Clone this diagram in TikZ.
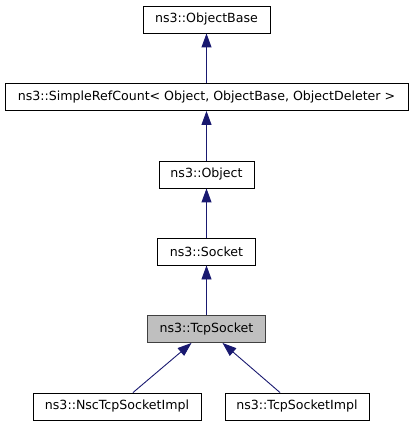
\documentclass[tikz,border=0pt]{standalone}
\usepackage{fontspec}
\setmainfont{DejaVu Sans}
\usetikzlibrary{arrows.meta}
\definecolor{edgeblue}{HTML}{191970}
\definecolor{boxgrey}{HTML}{BFBFBF}
\begin{document}
\begin{tikzpicture}[x=1pt, y=-1pt,
    every node/.style={font=\fontsize{12.6}{14}\selectfont},
    cls/.style={draw=black, line width=0.9pt, minimum height=27pt, inner sep=0pt},
    inherit/.style={draw=edgeblue, line width=0.9pt, -{Triangle[width=10pt, length=14pt]}}]
    \useasboundingbox (0,0) rectangle (413,427);
    % Draw the class nodes
    \node[cls, minimum width=127pt] (objbase) at (206.5, 19.5) {ns3::ObjectBase};
    \node[cls, minimum width=403pt] (refcount) at (206.5, 97) {ns3::SimpleRefCount< Object, ObjectBase, ObjectDeleter >};
    \node[cls, minimum width=95pt] (object) at (206.5, 174.5) {ns3::Object};
    \node[cls, minimum width=98pt] (socket) at (206.5, 251.5) {ns3::Socket};
    \node[cls, fill=boxgrey, draw=black!75, minimum width=118pt] (tcpsocket) at (206.5, 329) {ns3::TcpSocket};
    \node[cls, minimum width=168pt] (nsc) at (117, 406.5) {ns3::NscTcpSocketImpl};
    \node[cls, minimum width=144pt] (tcpimpl) at (297, 406.5) {ns3::TcpSocketImpl};
    % Draw the inheritance arrows
    \foreach \child/\parent in {refcount/objbase, object/refcount, socket/object, tcpsocket/socket} {
        \draw[inherit] (\child.north) -- (\parent.south);
    }
    \draw[inherit] (nsc.north) ++(16,0) coordinate (nsctop) (nsctop) -- ([xshift=-15pt]tcpsocket.south);
    \draw[inherit] (tcpimpl.north) ++(-17,0) coordinate (impltop) (impltop) -- ([xshift=16pt]tcpsocket.south);
\end{tikzpicture}
\end{document}
